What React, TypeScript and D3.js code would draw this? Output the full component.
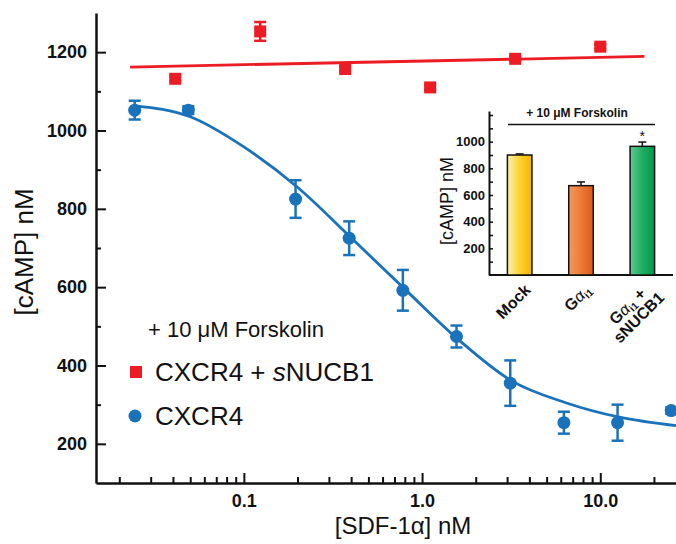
import React, { useEffect, useRef } from "react";
import * as d3 from "d3";

// main plot: SDF-1a dose response
const blueConc = [0.0244, 0.0488, 0.195, 0.39, 0.78, 1.56, 3.125, 6.25, 12.5, 25];
const blueCamp = [1052, 1052, 825, 725, 592, 474, 355, 254, 254, 285];
const blueErr = [24, 10, 48, 43, 52, 28, 58, 28, 46, 8];

const redConc = [0.0412, 0.1235, 0.37, 1.11, 3.33, 10];
const redCamp = [1132, 1253, 1157, 1110, 1183, 1214];
const redErr = [6, 24, 6, 6, 6, 6];

// fitted curves
const blueFitConc = [0.0244, 0.05, 0.1, 0.2, 0.4, 0.8, 1.6, 3.2, 6.4, 12.8, 27];
const blueFitCamp = [1063, 1035, 958, 855, 726, 595, 466, 360, 305, 268, 246];
const redFitConc = [0.023, 17.7];
const redFitCamp = [1162, 1189];

const yMajor = [200, 400, 600, 800, 1000, 1200];
const yMinor = [300, 500, 700, 900, 1100];
const xMajor = [0.1, 1, 10];
const xMinor = [0.02, 0.03, 0.04, 0.05, 0.06, 0.07, 0.08, 0.09, 0.2, 0.3, 0.4, 0.5, 0.6, 0.7, 0.8, 0.9, 2, 3, 4, 5, 6, 7, 8, 9, 20];

// inset bar chart
const insetCats = ["mock", "gai", "gaiNucb"];
const insetValues = [900, 670, 965];
const insetErr = [8, 28, 32];
const insetTicks = [100, 200, 300, 400, 500, 600, 700, 800, 900, 1000, 1100, 1200];

const BLUE = "#1a72bb";
const RED = "#ec1c24";
const FONT = "'Liberation Sans', Arial, Helvetica, sans-serif";

const App = () => {
    const ref = useRef<SVGSVGElement | null>(null);

    useEffect(() => {
        const svg = d3.select(ref.current);
        svg.selectAll("*").remove();

        const x = d3.scaleLog().domain([0.0148, 26.6]).range([96, 676]);
        const y = d3.scaleLinear().domain([100, 1300]).range([483, 13]);

        const defs = svg.append("defs");
        const grads = [
            ["gMock", "#fdf0b0", "#fcd230", "#f6b400"],
            ["gGai", "#f49a5e", "#ec7a36", "#d95c1c"],
            ["gNucb", "#5fc98d", "#1fae62", "#009848"],
        ];
        grads.forEach(([id, a, b, c]) => {
            const lg = defs.append("linearGradient").attr("id", id)
                .attr("x1", "0%").attr("x2", "100%").attr("y1", "0%").attr("y2", "0%");
            lg.append("stop").attr("offset", "0%").attr("stop-color", a);
            lg.append("stop").attr("offset", "50%").attr("stop-color", b);
            lg.append("stop").attr("offset", "100%").attr("stop-color", c);
        });

        // axes
        const yAxis = svg.append("g").attr("transform", "translate(96,0)")
            .call(d3.axisLeft(y).tickValues(yMajor).tickSize(-10).tickSizeOuter(0).tickPadding(9)
                .tickFormat(d => String(d)));
        svg.append("g").attr("transform", "translate(96,0)")
            .call(d3.axisLeft(y).tickValues(yMinor).tickSize(-5).tickSizeOuter(0).tickFormat(() => ""))
            .select(".domain").remove();

        const xAxis = svg.append("g").attr("transform", "translate(0,483)")
            .call(d3.axisBottom(x).tickValues(xMajor).tickSize(-10).tickSizeOuter(0).tickPadding(11)
                .tickFormat(d => (d as number) < 1 ? "0.1" : (d as number).toFixed(1)));
        svg.append("g").attr("transform", "translate(0,483)")
            .call(d3.axisBottom(x).tickValues(xMinor).tickSize(-6).tickSizeOuter(0).tickFormat(() => ""))
            .select(".domain").remove();

        svg.selectAll(".domain").attr("stroke", "#111").attr("stroke-width", 2.5);
        svg.selectAll(".tick line").attr("stroke", "#111").attr("stroke-width", 2);
        [yAxis, xAxis].forEach(a => a.selectAll("text")
            .attr("font-family", FONT).attr("font-size", 18).attr("font-weight", "bold").attr("fill", "#111"));

        // axis titles
        svg.append("text").attr("x", 403).attr("y", 534).attr("text-anchor", "middle")
            .attr("font-family", FONT).attr("font-size", 24).attr("fill", "#111")
            .text("[SDF-1α] nM");
        svg.append("text").attr("transform", "translate(33,252) rotate(-90)").attr("text-anchor", "middle")
            .attr("font-family", FONT).attr("font-size", 26).attr("fill", "#111")
            .text("[cAMP] nM");

        // fit lines
        const line = d3.line<[number, number]>()
            .x(d => x(d[0])).y(d => y(d[1])).curve(d3.curveMonotoneX);
        svg.append("path")
            .attr("d", line(redFitConc.map((c, i) => [c, redFitCamp[i]])))
            .attr("fill", "none").attr("stroke", RED).attr("stroke-width", 2.8);
        svg.append("path")
            .attr("d", line(blueFitConc.map((c, i) => [c, blueFitCamp[i]])))
            .attr("fill", "none").attr("stroke", BLUE).attr("stroke-width", 2.8);

        // error bars + markers
        const errBars = (conc: number[], vals: number[], errs: number[], color: string) => {
            const g = svg.append("g").attr("stroke", color).attr("stroke-width", 2.5);
            conc.forEach((c, i) => {
                const cx = x(c);
                const y1 = y(vals[i] + errs[i]);
                const y2 = y(vals[i] - errs[i]);
                g.append("line").attr("x1", cx).attr("x2", cx).attr("y1", y1).attr("y2", y2);
                g.append("line").attr("x1", cx - 6).attr("x2", cx + 6).attr("y1", y1).attr("y2", y1);
                g.append("line").attr("x1", cx - 6).attr("x2", cx + 6).attr("y1", y2).attr("y2", y2);
            });
        };
        errBars(redConc, redCamp, redErr, RED);
        errBars(blueConc, blueCamp, blueErr, BLUE);

        svg.append("g").selectAll("rect")
            .data(redConc)
            .enter()
            .append("rect")
            .attr("x", d => x(d) - 6)
            .attr("y", (d, i) => y(redCamp[i]) - 6)
            .attr("width", 12)
            .attr("height", 12)
            .attr("fill", RED);

        svg.append("g").selectAll("circle")
            .data(blueConc)
            .enter()
            .append("circle")
            .attr("cx", d => x(d))
            .attr("cy", (d, i) => y(blueCamp[i]))
            .attr("r", 6.5)
            .attr("fill", BLUE);

        // legend
        svg.append("text").attr("x", 148).attr("y", 337)
            .attr("font-family", FONT).attr("font-size", 22).attr("fill", "#111")
            .text("+ 10 μM Forskolin");
        svg.append("rect").attr("x", 130).attr("y", 366).attr("width", 12).attr("height", 12).attr("fill", RED);
        const l1 = svg.append("text").attr("x", 155).attr("y", 381)
            .attr("font-family", FONT).attr("font-size", 26).attr("fill", "#111");
        l1.append("tspan").text("CXCR4 + ");
        l1.append("tspan").attr("font-style", "italic").text("s");
        l1.append("tspan").text("NUCB1");
        svg.append("circle").attr("cx", 135).attr("cy", 416).attr("r", 6.5).attr("fill", BLUE);
        svg.append("text").attr("x", 155).attr("y", 425)
            .attr("font-family", FONT).attr("font-size", 26).attr("fill", "#111")
            .text("CXCR4");

        // ---- inset ----
        const xi = d3.scaleBand().domain(insetCats).range([489, 673]).paddingInner(0.6).paddingOuter(0.3);
        const yi = d3.scaleLinear().domain([0, 1230]).range([275, 111]);

        const inset = svg.append("g");
        const yiAxis = inset.append("g").attr("transform", "translate(489,0)")
            .call(d3.axisLeft(yi).tickValues(insetTicks).tickSize(-4).tickSizeOuter(0).tickPadding(4)
                .tickFormat(d => ((d as number) % 200 === 0 && (d as number) <= 1000) ? String(d) : ""));
        inset.append("line").attr("x1", 489).attr("x2", 673).attr("y1", 275).attr("y2", 275)
            .attr("stroke", "#111").attr("stroke-width", 2);
        yiAxis.select(".domain").attr("stroke", "#111").attr("stroke-width", 2);
        yiAxis.selectAll(".tick line").attr("stroke", "#111").attr("stroke-width", 1.5);
        yiAxis.selectAll("text").attr("font-family", FONT).attr("font-size", 13)
            .attr("font-weight", "bold").attr("fill", "#111");

        inset.append("text").attr("transform", "translate(453,201) rotate(-90)").attr("text-anchor", "middle")
            .attr("font-family", FONT).attr("font-size", 18).attr("fill", "#111")
            .text("[cAMP] nM");

        inset.append("text").attr("x", 577).attr("y", 117).attr("text-anchor", "middle")
            .attr("font-family", FONT).attr("font-size", 12).attr("font-weight", "bold").attr("fill", "#111")
            .text("+ 10 μM Forskolin");
        inset.append("line").attr("x1", 508).attr("x2", 655).attr("y1", 124.5).attr("y2", 124.5)
            .attr("stroke", "#111").attr("stroke-width", 1.5);

        const fills = ["url(#gMock)", "url(#gGai)", "url(#gNucb)"];
        inset.append("g").selectAll("rect")
            .data(insetCats)
            .enter()
            .append("rect")
            .attr("x", d => xi(d) as number)
            .attr("y", (d, i) => yi(insetValues[i]))
            .attr("width", xi.bandwidth())
            .attr("height", (d, i) => yi(0) - yi(insetValues[i]))
            .attr("fill", (d, i) => fills[i])
            .attr("stroke", "#111")
            .attr("stroke-width", 1.5);

        insetCats.forEach((c, i) => {
            const cx = (xi(c) as number) + xi.bandwidth() / 2;
            const top = yi(insetValues[i] + insetErr[i]);
            inset.append("line").attr("x1", cx).attr("x2", cx).attr("y1", yi(insetValues[i])).attr("y2", top)
                .attr("stroke", "#111").attr("stroke-width", 1.5);
            inset.append("line").attr("x1", cx - 4).attr("x2", cx + 4).attr("y1", top).attr("y2", top)
                .attr("stroke", "#111").attr("stroke-width", 1.5);
        });
        const lastCx = (xi("gaiNucb") as number) + xi.bandwidth() / 2;
        inset.append("text").attr("x", lastCx).attr("y", yi(insetValues[2] + insetErr[2]) - 1)
            .attr("text-anchor", "middle").attr("font-family", FONT).attr("font-size", 14).attr("fill", "#111")
            .text("*");

        // rotated category labels
        const label = (tx: number, ty: number, anchor: string) => inset.append("text")
            .attr("x", tx).attr("y", ty)
            .attr("transform", `rotate(-45 ${tx} ${ty})`)
            .attr("text-anchor", anchor)
            .attr("font-family", FONT).attr("font-size", 16).attr("font-weight", "bold").attr("fill", "#111");
        const gai = (t: any, tail: string) => {
            t.append("tspan").text("G");
            t.append("tspan").attr("font-weight", "normal").attr("font-style", "italic").text("α");
            t.append("tspan").attr("font-size", 10).attr("dy", 3).text("i1");
            t.append("tspan").attr("dy", -3).text(tail);
        };
        const bc = (c: string) => (xi(c) as number) + xi.bandwidth() / 2;
        label(bc("mock") + 12, 291, "end").text("Mock");
        gai(label(bc("gai") + 11, 291, "end"), "");
        const tx3 = bc("gaiNucb") - 11;
        const t3 = label(tx3, 310, "middle");
        gai(t3.append("tspan").attr("x", tx3), " +");
        t3.append("tspan").attr("x", tx3).attr("dy", 16).text("sNUCB1");
    }, []);

    return (
        <div style={{ position: "absolute", left: 0, top: 0 }}>
            <svg ref={ref} width={676} height={544} style={{ display: "block", background: "#fff" }}></svg>
        </div>
    );
};

export default App;
